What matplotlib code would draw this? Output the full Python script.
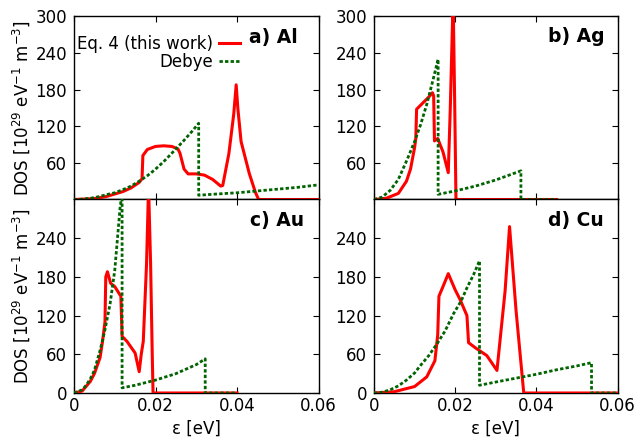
import matplotlib
matplotlib.use("Agg")
import matplotlib.pyplot as plt

plt.rcParams['font.family'] = ['DejaVu Sans']

# ---------------- data ----------------
# a) Al
al_eq4_x = [0, 0.005, 0.008, 0.010, 0.012, 0.014, 0.016, 0.0167, 0.0169, 0.018, 0.020, 0.022,
            0.024, 0.0255, 0.026, 0.027, 0.028, 0.030, 0.032, 0.034, 0.036, 0.0365, 0.038,
            0.0392, 0.0398, 0.0402, 0.041, 0.043, 0.0445, 0.0453, 0.060]
al_eq4_y = [0, 1.5, 5, 9, 13, 19, 28, 34, 72, 82, 87, 88, 87, 83, 76, 50, 42, 42, 40, 33, 22, 23,
            75, 140, 188, 150, 95, 43, 12, 0, 0]
al_deb_x = [0, 0.002, 0.004, 0.006, 0.008, 0.010, 0.0123, 0.014, 0.016, 0.018, 0.0197, 0.022,
            0.0246, 0.027, 0.029, 0.0306, 0.0306,
            0.035, 0.040, 0.045, 0.050, 0.055, 0.060]
al_deb_y = [0, 0.5, 2, 4.5, 8, 11, 17, 22, 30, 39, 48, 62, 80, 97, 112, 125, 7,
            9, 11, 14, 17, 20, 24]

# b) Ag
ag_eq4_x = [0, 0.003, 0.006, 0.008, 0.009, 0.010, 0.0103, 0.0105, 0.012, 0.0135, 0.0144, 0.0147,
            0.0149, 0.0157, 0.017, 0.0183, 0.0188, 0.0195, 0.0199, 0.0202, 0.045]
ag_eq4_y = [0, 2, 10, 30, 50, 85, 100, 148, 158, 168, 175, 170, 96, 100, 78, 44, 150, 330, 150, 0, 0]
ag_deb_x = [0, 0.002, 0.004, 0.006, 0.0082, 0.010, 0.0115, 0.013, 0.0145, 0.0158, 0.0158,
            0.020, 0.025, 0.030, 0.0362, 0.0362, 0.045]
ag_deb_y = [0, 4, 15, 33, 66, 95, 123, 156, 195, 230, 8.5, 14, 22, 32, 47, 0, 0]

# c) Au
au_eq4_x = [0, 0.002, 0.004, 0.005, 0.0064, 0.0070, 0.0076, 0.0078, 0.0082, 0.009, 0.010, 0.011,
            0.0115, 0.0118, 0.013, 0.015, 0.016, 0.0165, 0.017, 0.0178, 0.0183, 0.0188, 0.0192,
            0.0194, 0.040]
au_eq4_y = [0, 3, 18, 30, 55, 80, 110, 180, 188, 170, 165, 155, 150, 88, 80, 62, 33, 60, 80, 200,
            320, 200, 60, 0, 0]
au_deb_x = [0, 0.002, 0.003, 0.004, 0.005, 0.0064, 0.0075, 0.00885, 0.010, 0.0113, 0.0118, 0.0118,
            0.015, 0.020, 0.025, 0.030, 0.0322, 0.0322, 0.040]
au_deb_y = [0, 5, 12, 22, 35, 66, 95, 138, 190, 287, 310, 8, 12, 20, 30, 44, 53, 0, 0]

# d) Cu
cu_eq4_x = [0, 0.005, 0.010, 0.013, 0.015, 0.0157, 0.0160, 0.017, 0.0183, 0.020, 0.0212, 0.0229,
            0.0233, 0.025, 0.0278, 0.0303, 0.0323, 0.0334, 0.0350, 0.0369, 0.060]
cu_eq4_y = [0, 2, 10, 25, 50, 90, 150, 165, 185, 160, 145, 120, 78, 70, 58, 35, 158, 258, 128, 0, 0]
cu_deb_x = [0, 0.002, 0.004, 0.006, 0.008, 0.010, 0.01136, 0.0135, 0.0155, 0.0175, 0.0196,
            0.0215, 0.0229, 0.0245, 0.026, 0.026, 0.030, 0.035, 0.040,
            0.045, 0.050, 0.0536, 0.0536, 0.060]
cu_deb_y = [0, 1.2, 5, 11, 20, 31, 42, 58, 76, 96, 123, 143, 163, 183, 205, 12, 17, 23, 29,
            36, 42, 47, 0, 0]

panel_names = ["a) Al", "b) Ag", "c) Au", "d) Cu"]
xtick_vals = [0, 0.02, 0.04, 0.06]
xtick_labels = ["0", "0.02", "0.04", "0.06"]
ytick_top = [60, 120, 180, 240, 300]
ytick_bottom = [0, 60, 120, 180, 240]
legend_labels = ["Eq. 4 (this work)", "Debye"]

# ---------------- figure ----------------
W, H = 637, 441
fig = plt.figure(figsize=(W / 100, H / 100), dpi=100)


def ax_at(x0, x1, ytop, ybot):
    return fig.add_axes([x0 / W, 1 - ybot / H, (x1 - x0) / W, (ybot - ytop) / H])


ax_a = ax_at(74, 318.5, 16.5, 199.5)
ax_b = ax_at(374, 617.5, 16.5, 199.5)
ax_c = ax_at(74, 318.5, 199.5, 393)
ax_d = ax_at(374, 617.5, 199.5, 393)

RED = '#ff0000'
GREEN = '#006400'

data = [
    (ax_a, al_eq4_x, al_eq4_y, al_deb_x, al_deb_y),
    (ax_b, ag_eq4_x, ag_eq4_y, ag_deb_x, ag_deb_y),
    (ax_c, au_eq4_x, au_eq4_y, au_deb_x, au_deb_y),
    (ax_d, cu_eq4_x, cu_eq4_y, cu_deb_x, cu_deb_y),
]

label_pos = [(0.914, 0.854), (0.947, 0.862), (0.943, 0.861), (0.942, 0.861)]

for i, (ax, ex, ey, dx, dy) in enumerate(data):
    ax.plot(ex, ey, color=RED, lw=2.2, label=legend_labels[0], zorder=3)
    ax.plot(dx, dy, color=GREEN, lw=2.0, linestyle=(0, (1.2, 0.8)), label=legend_labels[1], zorder=4)
    ax.set_xlim(0, 0.06)
    ax.set_ylim(0, 300)
    ax.set_xticks(xtick_vals)
    top = i < 2
    if top:
        ax.set_xticklabels([])
        ax.set_yticks(ytick_top)
    else:
        ax.set_xticklabels(xtick_labels)
        ax.set_yticks(ytick_bottom)
        ax.set_xlabel("ε [eV]", fontsize=12)
        ax.xaxis.set_label_coords(0.5, -0.14)
    ax.tick_params(direction='in', length=4, width=0.8, top=True, right=True,
                   labelsize=12, colors='black')
    ax.tick_params(axis='y', pad=5)
    ax.tick_params(axis='x', pad=3)
    for sp in ax.spines.values():
        sp.set_linewidth(1.0)
    if i % 2 == 0:
        ax.set_ylabel(r"DOS [10$^{29}$ eV$^{-1}$ m$^{-3}$]", fontsize=12)
        ax.yaxis.set_label_coords(-0.17, 0.5)
    lx, ly = label_pos[i]
    ax.text(lx, ly, panel_names[i], transform=ax.transAxes, ha='right', va='baseline',
            fontsize=13.5, fontweight='bold')

leg = ax_a.legend(loc='upper right', bbox_to_anchor=(0.68, 0.9), frameon=False,
                  markerfirst=False, fontsize=12, handlelength=1.3, handletextpad=0.35,
                  labelspacing=0.0, borderpad=0.0, borderaxespad=0.0)

fig.savefig("out.png", dpi=100)
